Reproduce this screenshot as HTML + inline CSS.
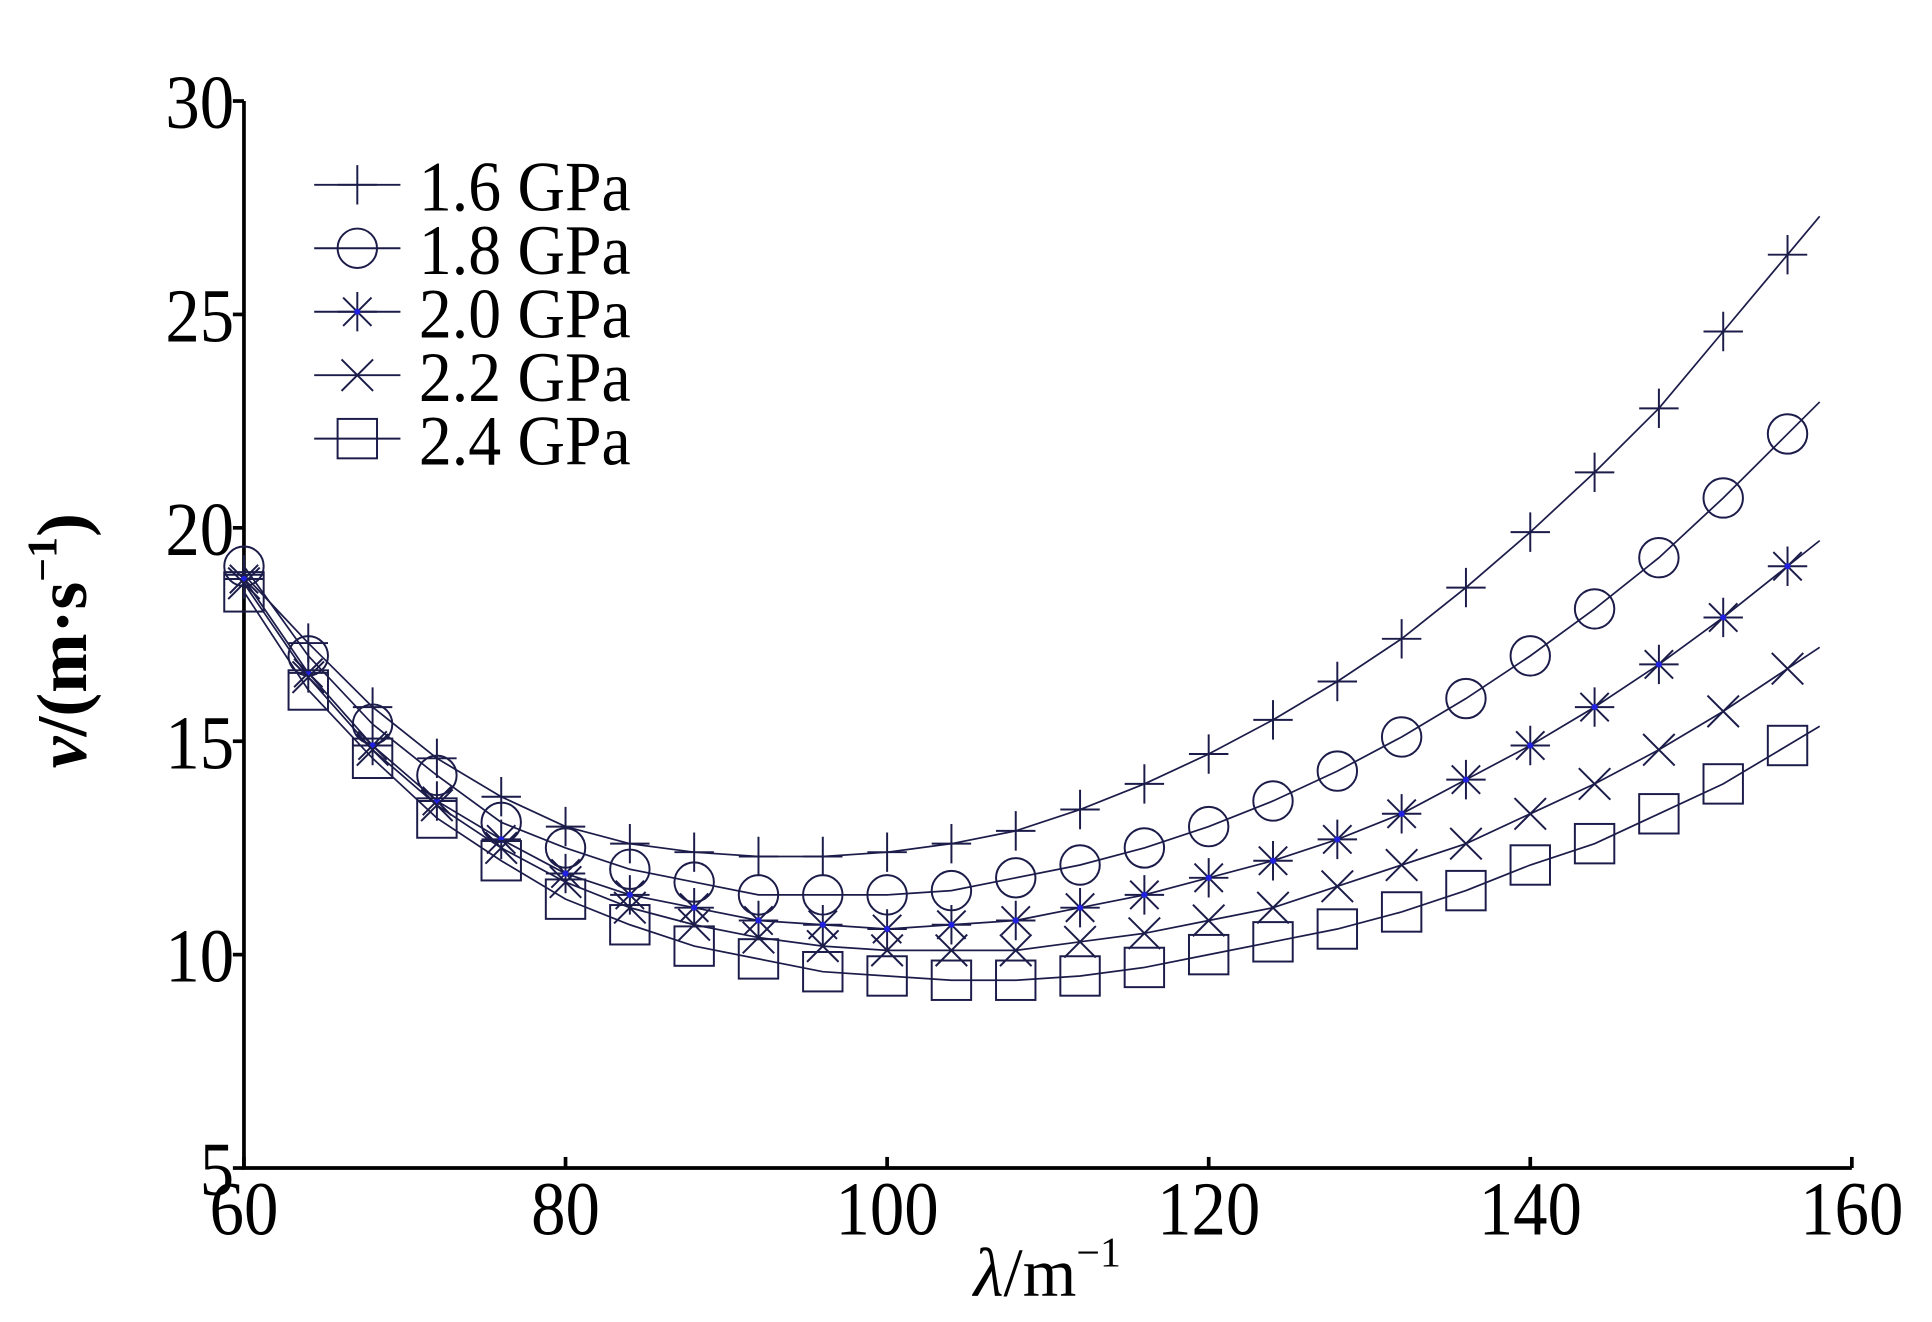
<!DOCTYPE html>
<html><head><meta charset="utf-8"><style>
html,body{margin:0;padding:0;background:#fff;}
svg{display:block;}
text{font-family:"Liberation Serif",serif;fill:#000;}
</style></head><body>
<svg id="chart" width="1932" height="1322" viewBox="0 0 1932 1322" xmlns="http://www.w3.org/2000/svg">
<g id="root" transform="scale(1.2321,1.2321)"></g>
</svg>
<script>
const xVals=[60,64,68,72,76,80,84,88,92,96,100,104,108,112,116,120,124,128,132,136,140,144,148,152,156];
const s16=[18.9,17.3,15.8,14.6,13.7,13.0,12.6,12.4,12.3,12.3,12.4,12.6,12.9,13.4,14.0,14.7,15.5,16.4,17.4,18.6,19.9,21.3,22.8,24.6,26.4];
const s18=[19.1,17.0,15.4,14.2,13.1,12.5,12.0,11.7,11.4,11.4,11.4,11.5,11.8,12.1,12.5,13.0,13.6,14.3,15.1,16.0,17.0,18.1,19.3,20.7,22.2];
const s20=[18.8,16.6,14.9,13.6,12.7,11.9,11.4,11.1,10.8,10.7,10.6,10.7,10.8,11.1,11.4,11.8,12.2,12.7,13.3,14.1,14.9,15.8,16.8,17.9,19.1];
const s22=[18.7,16.5,14.8,13.5,12.5,11.7,11.1,10.7,10.4,10.2,10.1,10.1,10.1,10.3,10.5,10.8,11.1,11.6,12.1,12.6,13.3,14.0,14.8,15.7,16.7];
const s24=[18.5,16.2,14.6,13.2,12.2,11.3,10.7,10.2,9.9,9.6,9.5,9.4,9.4,9.5,9.7,10.0,10.3,10.6,11.0,11.5,12.1,12.6,13.3,14.0,14.9];
const seriesNames=["1.6 GPa","1.8 GPa","2.0 GPa","2.2 GPa","2.4 GPa"];
const seriesMarkers=["plus","circle","star","cross","square"];
const xTicks=[60,80,100,120,140,160];
const yTicks=[5,10,15,20,25,30];

const NS="http://www.w3.org/2000/svg";
const root=document.getElementById('root');
const X0=198,X1=1503,Y0=948,Y1=82;
const sx=v=>X0+(v-60)/(160-60)*(X1-X0);
const sy=v=>Y0-(v-5)/(30-5)*(Y0-Y1);
const LC="#1c1c4a";
function mk(tag,attrs,parent){const e=document.createElementNS(NS,tag);for(const k in attrs)e.setAttribute(k,attrs[k]);(parent||root).appendChild(e);return e;}

const ax=mk('path',{d:`M${X0},${Y1} V${Y0} H${X1}`,fill:'none',stroke:'#000','stroke-width':3});


yTicks.forEach(t=>{
  const l=mk('line',{x1:X0-9,x2:X0,y1:sy(t),y2:sy(t),stroke:'#000','stroke-width':3});
  
  
  const tx=mk('text',{x:X0-8,y:sy(t)+22,'text-anchor':'end','font-size':62,transform:`translate(${X0-8},0) scale(0.9,1) translate(${-(X0-8)},0)`});
  tx.textContent=t;
  
  
});
xTicks.forEach(t=>{
  const l=mk('line',{x1:sx(t),x2:sx(t),y1:Y0,y2:Y0-9,stroke:'#000','stroke-width':3});
  
  
  const tx=mk('text',{x:sx(t),y:Y0+54,'text-anchor':'middle','font-size':62,transform:`translate(${sx(t)},0) scale(0.9,1) translate(${-sx(t)},0)`});
  tx.textContent=t;
  
  
});
const xl=mk('text',{x:850,y:1052,'text-anchor':'middle','font-size':56});
xl.innerHTML='<tspan font-style="italic">λ</tspan>/m<tspan font-size="34" dy="-24">−1</tspan>';


const yl=mk('text',{transform:'translate(70,520) rotate(-90)','text-anchor':'middle','font-size':58,'font-weight':'bold'});
yl.innerHTML='<tspan font-style="italic">v</tspan>/(m·s<tspan font-size="34" dy="-24">−1</tspan><tspan dy="24">)</tspan>';



function marker(type,cx,cy,g){
  const r=16,st={stroke:LC,'stroke-width':1.6,fill:'none'};
  if(type==='plus'){mk('path',Object.assign({d:`M${cx-r},${cy}H${cx+r}M${cx},${cy-r}V${cy+r}`},st),g);}
  else if(type==='circle'){mk('circle',Object.assign({cx,cy,r:r},st),g);}
  else if(type==='star'){const d=r*0.72;mk('path',Object.assign({d:`M${cx-r},${cy}H${cx+r}M${cx},${cy-r}V${cy+r}M${cx-d},${cy-d}L${cx+d},${cy+d}M${cx-d},${cy+d}L${cx+d},${cy-d}`},st),g);mk('circle',{cx,cy,r:2.5,fill:'#2020e0'},g);}
  else if(type==='cross'){const d=r*0.8;mk('path',Object.assign({d:`M${cx-d},${cy-d}L${cx+d},${cy+d}M${cx-d},${cy+d}L${cx+d},${cy-d}`},st),g);}
  else {mk('rect',Object.assign({x:cx-r,y:cy-r,width:2*r,height:2*r},st),g);}
}
const allSeries=[s16,s18,s20,s22,s24];
allSeries.forEach((vals,i)=>{
  const g=mk('g',{});
  
  
  const n=vals.length;
  const ext=vals[n-1]+(vals[n-1]-vals[n-2])*0.5;
  let d=vals.map((v,j)=>(j?'L':'M')+sx(xVals[j])+','+sy(v)).join(' ');
  d+=' L'+sx(xVals[n-1]+2)+','+sy(ext);
  mk('path',{d,fill:'none',stroke:LC,'stroke-width':1.4},g);
  vals.forEach((v,j)=>marker(seriesMarkers[i],sx(xVals[j]),sy(v),g));
});

const lg=mk('g',{});


seriesNames.forEach((nm,i)=>{
  const y=150+i*51.5;
  const e=mk('g',{},lg);
  
  
  mk('line',{x1:255,x2:325,y1:y,y2:y,stroke:LC,'stroke-width':1.6},e);
  marker(seriesMarkers[i],290,y,e);
  const t=mk('text',{x:340,y:y+21,'font-size':58,transform:`translate(340,0) scale(0.92,1) translate(-340,0)`},e);
  t.textContent=nm;
});
</script>
</body></html>
